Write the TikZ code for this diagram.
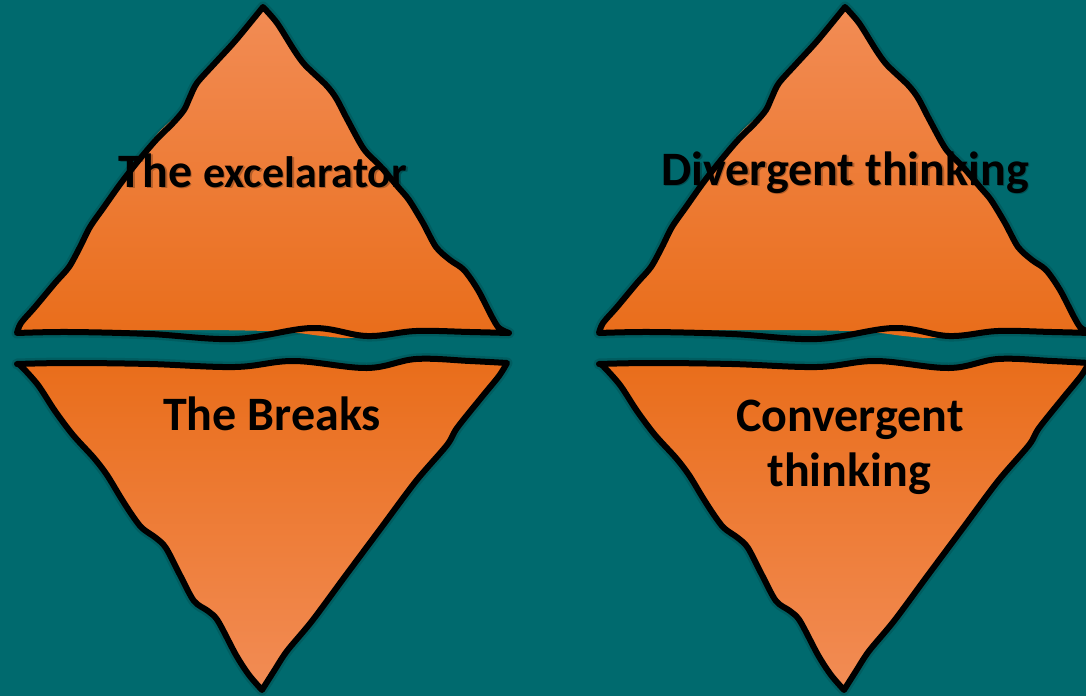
\documentclass[tikz,border=0pt]{standalone}
\usepackage{fontspec}
\setmainfont{Carlito}
\definecolor{bg}{HTML}{006A6E}
\definecolor{orlight}{HTML}{F28C55}
\definecolor{ormid}{HTML}{F47B2C}
\definecolor{ordark}{HTML}{E96D1A}
\newcommand\UpLeft{(17,333) (21,323) (35,307) (55,283) (69,267) (80,247) (90,227) (104,207) (121,183) (139,160) (156,140) (173,123) (184,110) (190,97) (197,83) (215,63) (236,40) (263,7)}
\newcommand\UpLeftFill{(17,333) (21,323) (35,307) (55,283) (69,267) (80,247) (90,227) (104,207) (121,183) (137,161) (147,147) (160,131) (176,116) (186,105) (190,97) (197,83) (215,63) (236,40) (263,7)}
\newcommand\UpRight{(263,7) (277,23) (294,50) (305,65) (326,85) (336,98) (346,117) (360,143) (367,153) (381,167) (398,187) (409,200) (423,223) (436,247) (450,260) (464,270) (478,290) (492,317) (499,328) (509,333)}
\newcommand\UpBase{(509,333) (470,332) (416,331) (367,336) (312,328) (235,339) (150,334) (69,332) (17,333)}
\newcommand\UpBaseFill{(509,333) (470,331) (416,331) (372,334) (350,338) (322,336) (298,333) (267,331) (190,330) (69,331) (17,333)}
\newcommand\LoTop{(17,364) (69,363) (150,364) (235,367) (294,361) (367,368) (416,359) (470,361) (507,363)}
\newcommand\LoRight{(507,363) (499,376) (481,398) (457,428) (447,445) (416,481) (381,528) (346,575) (312,621) (287,651) (274,671) (262,690)}
\newcommand\LoLeft{(262,690) (249,675) (236,655) (218,621) (208,611) (194,601) (180,575) (166,548) (156,538) (142,528) (132,515) (121,498) (107,475) (94,458) (73,435) (55,411) (38,385) (21,366) (17,364)}
\begin{document}
\begin{tikzpicture}[x=1pt,y=-1pt,
  outline/.style={draw=black,line width=6pt,line join=round,line cap=round},
  glow/.style={draw=black,line width=11pt,line join=round,opacity=0.12},
  upfill/.style={top color=orlight,middle color=ormid,bottom color=ordark,draw=none},
  lofill/.style={top color=ordark,middle color=ormid,bottom color=orlight,draw=none},
  label/.style={font=\bfseries\fontsize{48}{55}\selectfont,text=black,align=center,inner sep=0pt,anchor=base},
  sh/.style={label,opacity=0.25}]
\useasboundingbox (0,0) rectangle (1086,696);
\fill[bg] (0,0) rectangle (1086,696);
\foreach \dx in {0,582}{
\begin{scope}[xshift=\dx pt]
  % soft shadows
  \draw[glow] plot[smooth,tension=0.5] coordinates {\UpLeft} -- plot[smooth,tension=0.5] coordinates {\UpRight} -- plot[smooth,tension=0.6] coordinates {\UpBase} -- cycle;
  \draw[glow] plot[smooth,tension=0.6] coordinates {\LoTop} -- plot[smooth,tension=0.5] coordinates {\LoRight} -- plot[smooth,tension=0.5] coordinates {\LoLeft} -- cycle;
  % fills
  \shade[upfill] plot[smooth,tension=0.5] coordinates {\UpLeftFill} -- plot[smooth,tension=0.5] coordinates {\UpRight} -- plot[smooth,tension=0.6] coordinates {\UpBaseFill} -- cycle;
  \shade[lofill] plot[smooth,tension=0.6] coordinates {\LoTop} -- plot[smooth,tension=0.5] coordinates {\LoRight} -- plot[smooth,tension=0.5] coordinates {\LoLeft} -- cycle;
  % outlines
  \draw[outline] plot[smooth,tension=0.5] coordinates {\UpLeft} -- plot[smooth,tension=0.5] coordinates {\UpRight} -- plot[smooth,tension=0.6] coordinates {\UpBase} -- cycle;
  \draw[outline] plot[smooth,tension=0.6] coordinates {\LoTop} -- plot[smooth,tension=0.5] coordinates {\LoRight} -- plot[smooth,tension=0.5] coordinates {\LoLeft} -- cycle;
\end{scope}}
% text shadows
\node[sh] at (264.5,188.5) {The {\fontsize{44}{52}\selectfont excelarator}};
\node[sh] at (846.5,186.5) {Divergent thinking};
% labels
\node[label] (acc) at (263,187) {The {\fontsize{44}{52}\selectfont excelarator}};
\node[label] (brk) at (272,430) {The Breaks};
\node[label] (div) at (845,185) {Divergent thinking};
\node[label] (conv1) at (850,431) {Convergent};
\node[label] (conv2) at (849,486) {thinking};
\end{tikzpicture}
\end{document}
